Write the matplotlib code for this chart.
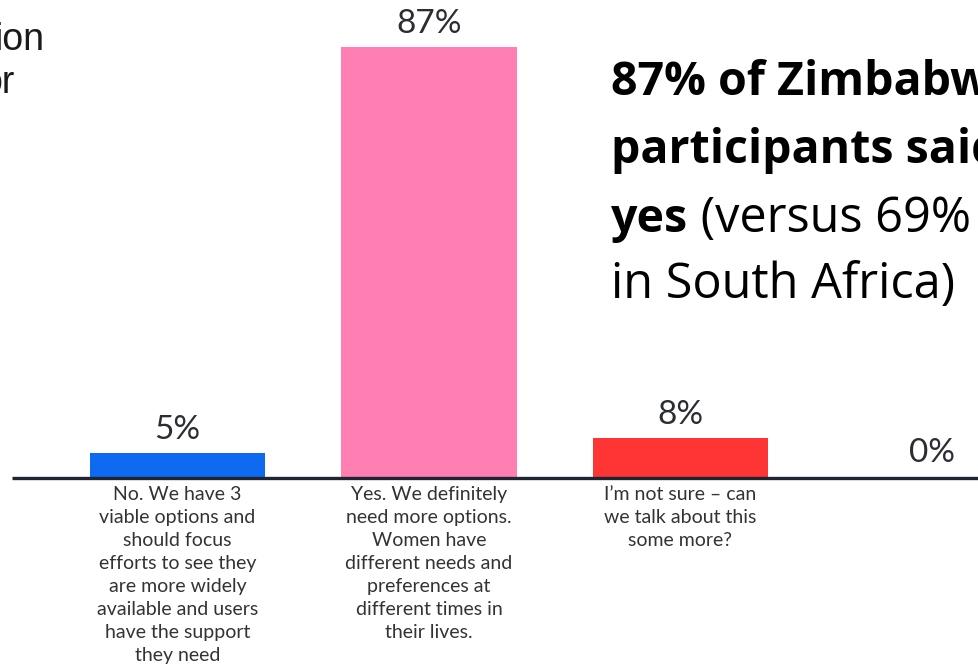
import matplotlib
matplotlib.use("Agg")
import matplotlib.pyplot as plt

# Survey responses
categories = [
    "No. We have 3\nviable options and\nshould focus\nefforts to see they\nare more widely\navailable and users\nhave the support\nthey need",
    "Yes. We definitely\nneed more options.\nWomen have\ndifferent needs and\npreferences at\ndifferent times in\ntheir lives.",
    "I\u2019m not sure \u2013 can\nwe talk about this\nsome more?",
    "",
]
values = [5, 87, 8, 0]
value_labels = ["5%", "87%", "8%", "0%"]
bar_colors = ["#0f6af2", "#ff7fb2", "#ff3535", "#cccccc"]

W, H = 979, 668
fig = plt.figure(figsize=(W / 100, H / 100), dpi=100)
ax = fig.add_axes([0, 0, 1, 1])

px_per_cat = 251.5
px_per_pct = 431 / 87
x0_px = 177.5
base_px = 478
ax.set_xlim(-x0_px / px_per_cat, (W - x0_px) / px_per_cat)
ax.set_ylim(-(H - base_px) / px_per_pct, base_px / px_per_pct)
ax.axis("off")

xs = list(range(len(values)))
ax.bar(xs, values, width=175 / px_per_cat, color=bar_colors, zorder=2)

# baseline
ax.hlines(0, -x0_px / px_per_cat + 12 / px_per_cat, (W - x0_px) / px_per_cat,
          color="#1f2432", lw=2.4, zorder=3)

label_font = "Lato"
for x, v, lab in zip(xs, values, value_labels):
    gap = 10 if v == 0 else 8
    ax.annotate(lab, (x, v), xytext=(0, gap * 0.72), textcoords="offset points",
                ha="center", va="bottom", fontsize=24, color="#2b2d33",
                family=label_font, zorder=4)

for x, cat in zip(xs, categories):
    if cat:
        ax.text(x, -8 / px_per_pct, cat, ha="center", va="top", fontsize=14,
                color="#333333", family=label_font, linespacing=1.43)

# Callout on the right
fx = lambda px: px / W
fy = lambda py: 1 - py / H
bold_kw = dict(fontsize=33.5, color="black", family="Open Sans", fontweight="bold")
reg_kw = dict(fontsize=35, color="black", family="Open Sans")
fig.text(fx(611), fy(95), "87% of Zimbabwe", va="baseline", **bold_kw)
fig.text(fx(611), fy(163), "participants said", va="baseline", **bold_kw)
t_yes = fig.text(fx(611), fy(232), "yes", va="baseline", **bold_kw)
fig.text(fx(611), fy(298), "in South Africa)", va="baseline", **reg_kw)
fig.canvas.draw()
yes_box = t_yes.get_window_extent()
fig.text(yes_box.x1 / W, fy(232), " (versus 69%", va="baseline", **reg_kw)

# Partial heading text at the upper left
fig.text(fx(45), fy(50), "ion", ha="right", va="baseline", fontsize=27,
         family="Liberation Sans", color="#1a1a1a")
fig.text(fx(15), fy(93), "or", ha="right", va="baseline", fontsize=27,
         family="Liberation Sans", color="#1a1a1a")

fig.savefig("out.png", dpi=100)
